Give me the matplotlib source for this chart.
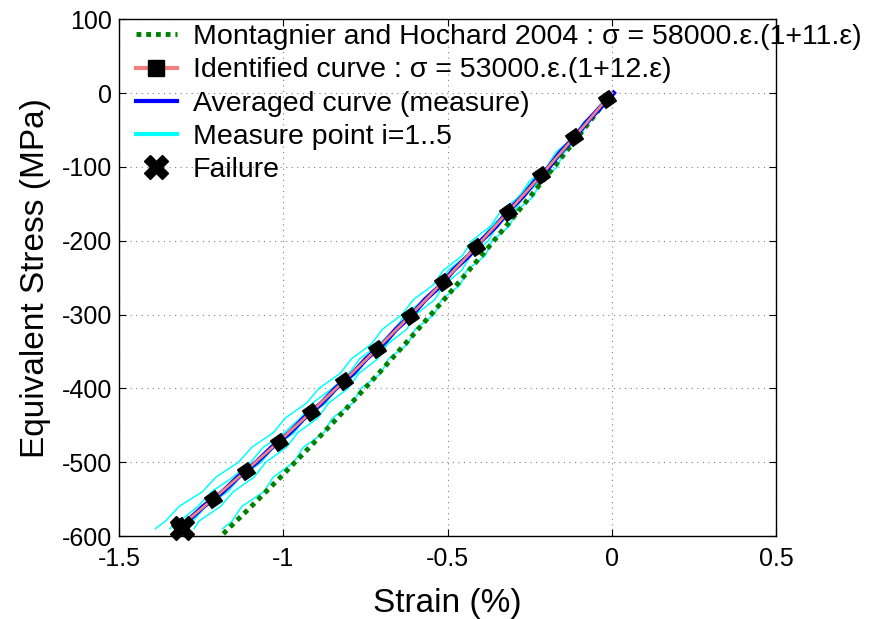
import numpy as np
import matplotlib
matplotlib.use("Agg")
import matplotlib.pyplot as plt
from matplotlib.lines import Line2D

plt.rcParams['font.family'] = ['Liberation Sans', 'DejaVu Sans']
plt.rcParams['axes.unicode_minus'] = False

# stress levels (MPa) shared by the measured curves
stress = [0, -20, -40, -60, -80, -100, -120, -140, -160, -180, -200, -220, -240,
          -260, -280, -300, -320, -340, -360, -380, -400, -420, -440, -460, -480,
          -500, -520, -540, -560, -580, -590]

# measure points i=1..5 (strain %)
meas_1 = [0.0, -0.034, -0.087, -0.116, -0.170, -0.198, -0.252, -0.281, -0.338, -0.369,
          -0.426, -0.455, -0.513, -0.544, -0.605, -0.639, -0.699, -0.732, -0.793, -0.828,
          -0.892, -0.930, -0.994, -1.031, -1.097, -1.137, -1.205, -1.247, -1.318, -1.360, -1.390]
meas_2 = [0.0, -0.044, -0.073, -0.112, -0.164, -0.190, -0.243, -0.284, -0.313, -0.368,
          -0.398, -0.441, -0.498, -0.527, -0.572, -0.630, -0.661, -0.708, -0.768, -0.801,
          -0.851, -0.912, -0.948, -0.998, -1.062, -1.100, -1.153, -1.219, -1.261, -1.316, -1.346]
meas_3 = [0.0, -0.033, -0.081, -0.109, -0.158, -0.186, -0.237, -0.265, -0.317, -0.345,
          -0.399, -0.428, -0.483, -0.511, -0.568, -0.598, -0.655, -0.686, -0.746, -0.777,
          -0.838, -0.871, -0.933, -0.967, -1.031, -1.067, -1.132, -1.169, -1.237, -1.276, -1.305]
meas_4 = [0.0, -0.041, -0.068, -0.117, -0.143, -0.192, -0.219, -0.270, -0.296, -0.350,
          -0.376, -0.430, -0.457, -0.512, -0.540, -0.597, -0.625, -0.683, -0.713, -0.771,
          -0.803, -0.863, -0.895, -0.957, -0.991, -1.054, -1.089, -1.153, -1.192, -1.258, -1.272]
meas_5 = [0.0, -0.028, -0.075, -0.097, -0.147, -0.166, -0.219, -0.238, -0.292, -0.311,
          -0.365, -0.385, -0.442, -0.462, -0.519, -0.541, -0.599, -0.621, -0.680, -0.704,
          -0.764, -0.789, -0.851, -0.877, -0.940, -0.968, -1.031, -1.060, -1.127, -1.157, -1.185]

# averaged curve (measure)
avg_strain = [0.005, -0.036, -0.078, -0.113, -0.156, -0.191, -0.235, -0.271, -0.316, -0.352,
              -0.398, -0.435, -0.483, -0.520, -0.569, -0.608, -0.657, -0.697, -0.748, -0.789,
              -0.841, -0.884, -0.937, -0.981, -1.036, -1.082, -1.138, -1.185, -1.244, -1.293, -1.320]

# identified curve
ident_strain = [0.0, -0.015, -0.115, -0.215, -0.315, -0.415, -0.515, -0.615, -0.715,
                -0.815, -0.915, -1.015, -1.115, -1.215, -1.315]
ident_stress = [0.0, -7.9, -60.1, -111.0, -160.6, -209.0, -256.1, -301.9, -346.4,
                -389.7, -431.7, -472.4, -511.9, -550.1, -587.0]

# Montagnier and Hochard 2004
mh_strain = [0.0, -0.1, -0.2, -0.3, -0.4, -0.5, -0.6, -0.7, -0.8, -0.9, -1.0, -1.1, -1.2]
mh_stress = [0.0, -57.4, -113.4, -168.3, -221.8, -274.1, -325.0, -374.7, -423.2,
             -470.3, -516.2, -560.8, -604.1]

# failure point
fail_strain = [-1.309]
fail_stress = [-589]

pink = '#f08080'
green = (0, 0.5, 0)

fig = plt.figure(figsize=(8.9, 6.19), dpi=100)
ax = fig.add_axes([0.134, 0.134, 0.738, 0.835])

for m in [meas_1, meas_2, meas_3, meas_4, meas_5]:
    ax.plot(m, stress, color='cyan', linewidth=1.1, zorder=2)
ax.plot(mh_strain, mh_stress, color=green, linewidth=3.5, dashes=(1, 1), zorder=3)
ax.plot(avg_strain, stress, color='blue', linewidth=3.5, zorder=4)
ax.plot(ident_strain, ident_stress, color=pink, linewidth=2, zorder=5)
ax.plot(ident_strain[1:], ident_stress[1:], linestyle='none', marker=(4, 0, -10),
        markersize=13, color='black', zorder=6)
ax.plot(fail_strain, fail_stress, linestyle='none', marker='X', markersize=17,
        color='black', zorder=7, clip_on=False)

ax.set_xlim(-1.5, 0.5)
ax.set_ylim(-600, 100)
ax.set_xticks([-1.5, -1, -0.5, 0, 0.5])
ax.set_xticklabels(['-1.5', '-1', '-0.5', '0', '0.5'])
ax.set_yticks(range(-600, 101, 100))
ax.grid(True, linestyle=(0, (1, 4)), color='#808080', linewidth=0.8)
ax.tick_params(direction='in', top=True, right=True, labelsize=18, length=5)
ax.tick_params(axis='x', pad=8)
ax.tick_params(axis='y', pad=5)
for s in ax.spines.values():
    s.set_linewidth(1)
ax.set_xlabel('Strain (%)', fontsize=24, labelpad=12)
ax.set_ylabel('Equivalent Stress (MPa)', fontsize=24, labelpad=8)

handles = [
    Line2D([], [], color=green, linewidth=3.5, dashes=(1, 1)),
    Line2D([], [], color=pink, linewidth=3, marker='s', markersize=11,
           markerfacecolor='black', markeredgecolor='black'),
    Line2D([], [], color='blue', linewidth=3),
    Line2D([], [], color='cyan', linewidth=3),
    Line2D([], [], linestyle='none', marker='X', markersize=17, color='black'),
]
labels = [
    'Montagnier and Hochard 2004 : σ = 58000.ε.(1+11.ε)',
    'Identified curve : σ = 53000.ε.(1+12.ε)',
    'Averaged curve (measure)',
    'Measure point i=1..5',
    'Failure',
]
ax.legend(handles, labels, loc='upper left', bbox_to_anchor=(0.025, 0.99), frameon=False,
          fontsize=20.5, handlelength=1.45, handletextpad=0.55, labelspacing=0.25,
          borderpad=0.0, borderaxespad=0.0)

fig.savefig('out.png', dpi=100)
